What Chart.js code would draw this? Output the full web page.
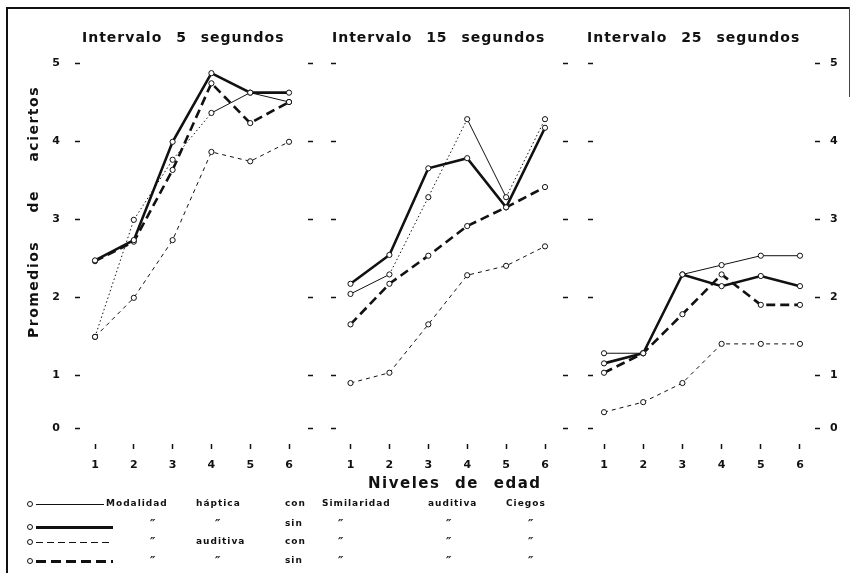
<!DOCTYPE html>
<html>
<head>
<meta charset="utf-8">
<script src="https://cdn.jsdelivr.net/npm/chart.js@4.4.0/dist/chart.umd.min.js"></script>
<style>
  html, body { margin: 0; padding: 0; background: #fff; }
  #page { position: relative; width: 852px; height: 573px; overflow: hidden;
          font-family: "DejaVu Sans", sans-serif; color: #111; }
  canvas { position: absolute; top: 0; }
  .txt { position: absolute; white-space: nowrap; font-weight: bold; line-height: 1; }
  .title { font-size: 14px; letter-spacing: 1px; word-spacing: 8px; top: 30px; }
  .ylab { font-size: 14px; letter-spacing: 1.5px; word-spacing: 22px;
          left: 33px; top: 212px; transform: translate(-50%, -50%) rotate(-90deg); }
  .xlab { font-size: 15px; letter-spacing: 1.5px; word-spacing: 8px; left: 368px; top: 476px; }
  .leg { font-size: 9px; letter-spacing: 1px; font-weight: bold; }
  .ditto { font-size: 12px; font-style: italic; }
  .dot { position: absolute; width: 4px; height: 4px; border: 1px solid #111; border-radius: 50%; background: #fff; }
  .sample { position: absolute; }
  .frame-l { position: absolute; left: 6px; top: 7px; width: 2px; height: 566px; background: #111; }
  .frame-t { position: absolute; left: 6px; top: 7px; width: 844px; height: 2px; background: #111; }
  .frame-r { position: absolute; left: 849px; top: 7px; width: 1px; height: 90px; background: #444; }
</style>
</head>
<body>
<div id="page">
  <div class="frame-l"></div><div class="frame-t"></div><div class="frame-r"></div>
  <canvas id="c5" width="310" height="490" style="left:0px"></canvas>
  <canvas id="c15" width="270" height="490" style="left:300px"></canvas>
  <canvas id="c25" width="292" height="490" style="left:560px"></canvas>
  <div class="txt title" id="t5" style="left:82px"></div>
  <div class="txt title" id="t15" style="left:332px"></div>
  <div class="txt title" id="t25" style="left:587px"></div>
  <div class="txt ylab" id="ylab"></div>
  <div class="txt xlab" id="xlab"></div>
  <div id="legend"></div>
</div>
<script>
// ---- data ----
const levels = [1, 2, 3, 4, 5, 6];
const yTicks = [0, 1, 2, 3, 4, 5];
const titles = ['Intervalo 5 segundos', 'Intervalo 15 segundos', 'Intervalo 25 segundos'];
const yTitle = 'Promedios de aciertos';
const xTitle = 'Niveles de edad';

// Intervalo 5 segundos
const s5HapticaCon  = [1.49, 2.99, 3.76, 4.36, 4.62, 4.50];
const s5HapticaSin  = [2.47, 2.73, 3.99, 4.87, 4.62, 4.62];
const s5AuditivaCon = [1.49, 1.99, 2.73, 3.86, 3.74, 3.99];
const s5AuditivaSin = [2.46, 2.71, 3.63, 4.74, 4.23, 4.50];
// Intervalo 15 segundos
const s15HapticaCon  = [2.04, 2.29, 3.28, 4.28, 3.28, 4.28];
const s15HapticaSin  = [2.17, 2.54, 3.65, 3.78, 3.15, 4.17];
const s15AuditivaCon = [0.85, 1.03, 1.65, 2.28, 2.40, 2.65];
const s15AuditivaSin = [1.65, 2.17, 2.53, 2.91, 3.15, 3.41];
// Intervalo 25 segundos
const s25HapticaCon  = [1.28, 1.28, 2.29, 2.41, 2.53, 2.53];
const s25HapticaSin  = [1.15, 1.28, 2.29, 2.14, 2.27, 2.14];
const s25AuditivaCon = [0.30, 0.49, 0.85, 1.40, 1.40, 1.40];
const s25AuditivaSin = [1.03, 1.28, 1.78, 2.29, 1.90, 1.90];

// legend text rows
const DITTO = '\u2033';
const legendRows = [
  ['Modalidad', 'háptica', 'con', 'Similaridad', 'auditiva', 'Ciegos'],
  [DITTO, DITTO, 'sin', DITTO, DITTO, DITTO],
  [DITTO, 'auditiva', 'con', DITTO, DITTO, DITTO],
  [DITTO, DITTO, 'sin', DITTO, DITTO, DITTO],
];

// ---- layout / style ----
const INK = '#111';
const tickFont = { family: '"DejaVu Sans", sans-serif', size: 11, weight: 'bold' };
const legendX = [
  [106, 196, 285, 322, 428, 506],
  [150, 215, 285, 338, 446, 528],
  [150, 196, 285, 338, 446, 528],
  [150, 215, 285, 338, 446, 528],
];
const legendY = [504, 524, 542, 561];

// styles per modality line (thin solid, thick solid, thin dashed, thick dashed)
const lineStyles = [
  { width: 1,   dash: [] },
  { width: 2.6, dash: [] },
  { width: 1,   dash: [4, 4] },
  { width: 2.6, dash: [9, 5] },
];
// segments of the thin solid line that came out broken in the print
const faintSegs = { c5: [0, 1, 2], c15: [1, 2, 4], c25: [] };

// the printed value axis is squeezed below 1
const SQUEEZE = 53 / 78;
const warp = v => (v >= 1 ? v : 1 - (1 - v) * SQUEEZE);
const unwarp = w => (w >= 1 ? w : 1 - (1 - w) / SQUEEZE);

class WarpScale extends Chart.LinearScale {
  static id = 'warp';
  static defaults = Chart.LinearScale.defaults;
  getPixelForValue(value) {
    const lo = warp(this.min), hi = warp(this.max);
    return this.getPixelForDecimal((warp(value) - lo) / (hi - lo));
  }
  getValueForPixel(pixel) {
    const lo = warp(this.min), hi = warp(this.max);
    return unwarp(lo + this.getDecimalForPixel(pixel) * (hi - lo));
  }
}
Chart.register(WarpScale);

function yAxis(position, weight, width, showLabels) {
  return {
    type: 'warp', position, weight, min: -0.3, max: 5.3,
    afterBuildTicks: s => { s.ticks = yTicks.map(v => ({ value: v })); },
    afterFit: s => { s.width = width; },
    grid: { drawOnChartArea: false, drawTicks: true, tickLength: 5, tickColor: INK, tickWidth: 1.5 },
    border: { display: false },
    ticks: { display: showLabels, padding: position === 'left' ? 15 : 10, color: INK, font: tickFont },
  };
}

function xAxis(min, max) {
  return {
    type: 'linear', min, max,
    afterBuildTicks: s => { s.ticks = levels.map(v => ({ value: v })); },
    afterFit: s => { s.height = 46; },
    grid: { drawOnChartArea: false, drawTicks: true, tickLength: 5, tickColor: INK, tickWidth: 1.5 },
    border: { display: false },
    ticks: { padding: 10, color: INK, font: tickFont, maxRotation: 0, autoSkip: false },
  };
}

function dataset(values, style, faint) {
  return {
    data: levels.map((x, i) => ({ x, y: values[i] })),
    borderColor: INK,
    borderWidth: style.width,
    borderDash: style.dash,
    pointRadius: 2.6,
    pointBorderWidth: 1,
    pointBackgroundColor: '#fff',
    pointBorderColor: INK,
    tension: 0,
    segment: faint ? { borderDash: ctx => (faint.includes(ctx.p0DataIndex) ? [1.5, 2.5] : undefined) } : undefined,
  };
}

function makePanel(id, series, scales, padding) {
  const datasets = series.map((vals, i) => dataset(vals, lineStyles[i], i === 0 ? faintSegs[id] : null));
  return new Chart(document.getElementById(id), {
    type: 'line',
    data: { datasets },
    options: {
      responsive: false,
      animation: false,
      devicePixelRatio: 1,
      layout: { padding },
      plugins: { legend: { display: false }, tooltip: { enabled: false } },
      scales,
    },
  });
}

makePanel('c5', [s5HapticaCon, s5HapticaSin, s5AuditivaCon, s5AuditivaSin], {
  x: xAxis(0.613, 6.283),
  y: yAxis('left', 0, 80, true),
}, { top: 39.6, right: 10, bottom: 0, left: 0 });

makePanel('c15', [s15HapticaCon, s15HapticaSin, s15AuditivaCon, s15AuditivaSin], {
  x: xAxis(0.627, 6.257),
  y: yAxis('left', 0, 23, false),
  yo: yAxis('left', 1, 13, false),
}, { top: 39.6, right: 15, bottom: 0, left: 0 });

makePanel('c25', [s25HapticaCon, s25HapticaSin, s25AuditivaCon, s25AuditivaSin], {
  x: xAxis(0.719, 6.383),
  y: yAxis('left', 0, 25, false),
  yo: yAxis('left', 1, 8, false),
  yr: yAxis('right', 0, 37, true),
}, { top: 39.6, right: 0, bottom: 0, left: 0 });

// ---- text ----
document.getElementById('t5').textContent = titles[0];
document.getElementById('t15').textContent = titles[1];
document.getElementById('t25').textContent = titles[2];
document.getElementById('ylab').textContent = yTitle;
document.getElementById('xlab').textContent = xTitle;

const legend = document.getElementById('legend');
const sampleCss = [
  'height:1px;background:#111;',
  'height:3px;background:#111;',
  'height:1px;background:repeating-linear-gradient(90deg,#111 0 7px,transparent 7px 11px);',
  'height:3px;background:repeating-linear-gradient(90deg,#111 0 10px,transparent 10px 15px);',
];
const sampleEnd = [104, 113, 113, 113];
const sampleY = [504, 527, 542, 561];
legendRows.forEach((row, r) => {
  const dot = document.createElement('div');
  dot.className = 'dot';
  dot.style.left = '27px';
  dot.style.top = (sampleY[r] - 3) + 'px';
  legend.appendChild(dot);
  const line = document.createElement('div');
  line.className = 'sample';
  line.style.cssText = sampleCss[r] + 'left:36px;width:' + (sampleEnd[r] - 36) + 'px;top:' + (sampleY[r] - (r % 2 ? 1.5 : 0.5)) + 'px;';
  legend.appendChild(line);
  row.forEach((word, c) => {
    const el = document.createElement('div');
    el.className = word === DITTO ? 'txt leg ditto' : 'txt leg';
    el.textContent = word;
    el.style.left = legendX[r][c] + 'px';
    el.style.top = (legendY[r] - (word === DITTO ? 6 : 5)) + 'px';
    legend.appendChild(el);
  });
});
</script>
</body>
</html>
